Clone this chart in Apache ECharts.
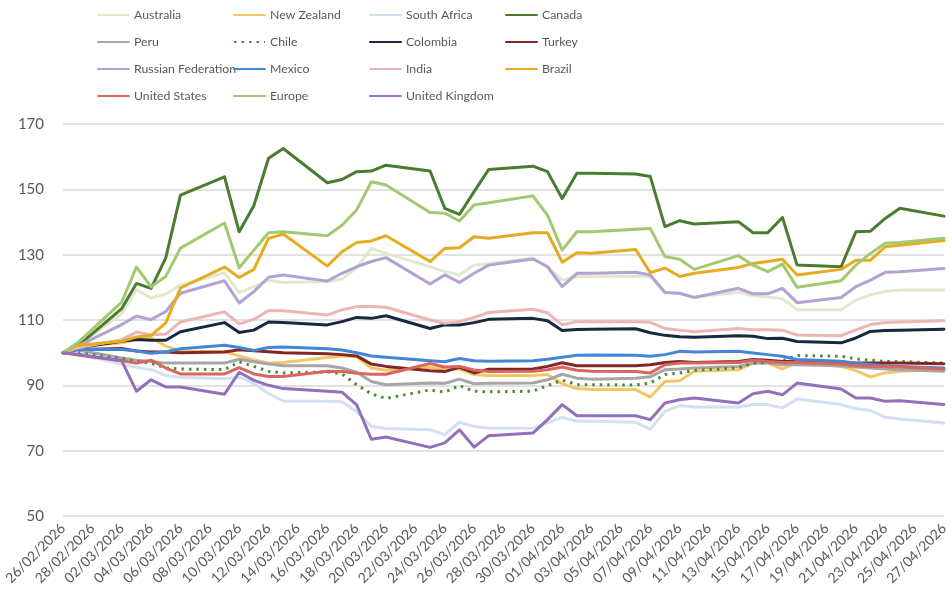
<!DOCTYPE html>
<html><head><meta charset="utf-8">
<script src="https://cdn.jsdelivr.net/npm/echarts@6/dist/echarts.min.js"></script>
<style>html,body{margin:0;padding:0;background:#fff}#c{width:951px;height:596px}</style>
</head><body><div id="c"></div>
<script>
// Trading dates (weekdays) with observations
const dates = ['26/02/2026','27/02/2026','02/03/2026','03/03/2026','04/03/2026','05/03/2026','06/03/2026',
'09/03/2026','10/03/2026','11/03/2026','12/03/2026','13/03/2026','16/03/2026','17/03/2026','18/03/2026','19/03/2026','20/03/2026',
'23/03/2026','24/03/2026','25/03/2026','26/03/2026','27/03/2026','30/03/2026','31/03/2026','01/04/2026','02/04/2026','03/04/2026',
'06/04/2026','07/04/2026','08/04/2026','09/04/2026','10/04/2026','13/04/2026','14/04/2026','15/04/2026','16/04/2026','17/04/2026',
'20/04/2026','21/04/2026','22/04/2026','23/04/2026','24/04/2026','27/04/2026'];

const australia = [100,102,112,119.3,116.7,118,120.7,124.4,118.4,120.2,122.2,121.5,121.8,122.5,126,131.9,130.4,126.3,124.8,123.8,126.8,127.3,128.9,126.3,122.2,123.3,123.3,123.5,123.3,118.5,118,117,118.5,117.5,117,116.5,113.1,113.1,116.1,117.7,118.7,119.2,119.2];
const newZealand = [100,102,103,104,104.5,102,100.5,100.3,99,97.8,96.8,97,98.5,99,98.8,95.3,94.6,95.5,95,95,93.3,93,93,93.3,90.5,89,88.7,88.7,86.4,91.2,91.4,94.3,94.8,96.8,96.8,95,97,95.8,94.5,92.6,93.8,94.3,94.8];
const southAfrica = [100,99.5,96.5,95.5,94.8,93,92.5,92,92.5,90.5,87.5,85.2,85.1,85,82,77.5,76.8,76.4,74.9,78.7,77.4,76.9,76.9,78.5,80.2,79,79,78.7,76.6,82,83.8,83.4,83.4,84.1,84.1,83.1,85.8,84.1,82.8,82.3,80.2,79.7,78.5];
const canada = [100,102,113.5,121.2,119.7,129,148.2,153.8,137,145,159.5,162.5,152,153,155.4,155.6,157.4,155.6,144.2,142.3,149.3,156.1,157.1,155.4,147.2,154.9,154.9,154.7,153.9,138.6,140.4,139.4,140.1,136.7,136.7,141.4,126.8,126.3,137,137.2,141.1,144.2,141.8];
const peru = [100,100.8,98.4,97.7,97.3,96.8,96.8,96.8,98,97.2,96.5,96,96,95.3,94,91.2,90.2,90.7,90.6,91.9,90.5,90.6,90.7,91.7,93.4,92.2,91.9,92.2,92.6,94.8,95,95.3,95.8,96.8,96.8,96.3,96.3,96,95.6,95.3,95,94.8,94.3];
const chile = [100,100,98.2,97.3,96.8,95.3,95,94.8,97.2,95.8,94.3,93.8,94.1,93.5,90.2,87.4,86,88.6,87.9,89.9,88.2,88,88.2,89.9,91.6,90.2,90.2,90.1,90.7,93.3,93.8,94.6,95.3,96.8,97,97.5,99.1,98.9,98.1,97.7,97.3,97.3,96.8];
const colombia = [100,101.5,103.5,104,103.8,103.8,106.4,109.2,106.2,106.9,109.4,109.2,108.5,109.5,110.8,110.5,111.3,107.4,108.5,108.5,109.2,110.2,110.5,109.8,106.8,107.1,107.2,107.3,106.1,105.3,104.9,104.7,105.2,105,104.3,104.4,103.4,103,104.5,106.5,106.8,106.9,107.2];
const turkey = [100,101,101.3,100.5,100.2,100.2,100,100.2,100.9,100.6,100.3,100,99.7,99.4,99,96.5,95.8,94.5,94.2,95.5,93.8,94.9,95,95.8,96.9,96,96,96,96.3,97,97.3,97,97.3,97.9,97.7,97.3,97.3,97,96.8,96.8,96.8,96.8,96.6];
const russia = [100,102,108.6,111.2,110.1,112.6,118.2,122,115.2,118.7,123.1,123.8,121.9,124.3,126.3,127.9,129.1,121,123.8,121.5,124.3,126.8,128.7,126.3,120.2,124.3,124.3,124.6,123.8,118.4,118.2,116.9,119.7,118,118,119.7,115.3,116.9,120.2,122.2,124.6,124.8,125.8];
const mexico = [100,101,101,100.5,99.8,100.2,101.2,102.3,101.6,100.7,101.6,101.7,101.2,100.8,100,99,98.6,97.5,97.2,98.2,97.5,97.4,97.5,98,98.6,99.2,99.3,99.2,98.9,99.4,100.4,100.2,100.4,99.9,99.4,98.9,97.9,97.4,96.8,96.4,96,95.8,95.3];
const india = [100,101.5,104,106.3,105.4,105.7,109.4,112.5,108.8,110.2,112.9,112.8,111.5,113.1,114.1,114.1,113.9,110,109,109.5,110.8,112.3,113.3,112.2,108.5,109.5,109.5,109.5,109.3,107.4,106.9,106.4,107.4,107,107,106.9,105.4,105.2,107,108.6,109.2,109.4,109.8];
const brazil = [100,102.3,103.5,104.8,105.3,109.1,119.8,126.2,123,125.5,135,136.3,126.5,130.9,133.7,134.2,135.8,127.9,131.9,132.1,135.5,135,136.7,136.7,127.7,130.6,130.4,131.6,124.5,125.9,123.3,124.3,126.1,127.3,127.9,128.6,123.8,125.5,128.3,128.3,132.4,132.9,134.3];
const unitedStates = [100,99.3,97.5,96.8,97.7,95.3,93.5,93.5,95.4,93.5,92.7,92.7,94.3,94.2,93.7,93.4,93.4,96.7,95.6,95.8,94.7,94.2,94.3,94.8,95.6,94.6,94.3,94.2,93.8,96.3,96.8,96.8,97,97.7,97.3,97,97,96.5,96,95.8,95.8,95.6,95];
const europe = [100,103,115.5,126.2,120.2,123.3,132,139.7,126,131.4,136.7,137,135.8,139,143.7,152.3,151.3,142.9,142.7,140.3,145.2,145.9,148,142.1,131.4,137,137,137.8,138,129.4,128.6,125.5,129.7,126.8,124.8,127.1,120,122,126.8,130.4,133.5,133.7,135];
const unitedKingdom = [100,99.5,97.5,88.2,91.7,89.5,89.5,87.3,94,91.5,90,89,88.2,87.9,84,73.5,74.2,71,72.4,76.4,71.1,74.6,75.4,79.5,84.1,80.7,80.7,80.7,79.5,84.6,85.6,86.1,84.6,87.4,88.2,87.1,90.7,88.9,86.1,86.1,85.1,85.3,84.1];

const yTickLabels = [50,70,90,110,130,150,170];

// Full daily category axis (26/02/2026 .. 27/04/2026)
const axisDays = [];
(function(){
  const start = Date.UTC(2026,1,26), end = Date.UTC(2026,3,27);
  for (let t = start; t <= end; t += 86400000) {
    const d = new Date(t);
    const dd = String(d.getUTCDate()).padStart(2,'0');
    const mm = String(d.getUTCMonth()+1).padStart(2,'0');
    axisDays.push(dd + '/' + mm + '/' + d.getUTCFullYear());
  }
})();

const seriesDefs = [
  ['Australia', australia, '#e2e8cd', 'solid'],
  ['New Zealand', newZealand, '#f3c764', 'solid'],
  ['South Africa', southAfrica, '#d3e0f1', 'solid'],
  ['Canada', canada, '#4a7c2f', 'solid'],
  ['Peru', peru, '#a6a6a6', 'solid'],
  ['Chile', chile, '#4c8c33', 'dotted'],
  ['Colombia', colombia, '#17283f', 'solid'],
  ['Turkey', turkey, '#832626', 'solid'],
  ['Russian Federation', russia, '#b3a2d3', 'solid'],
  ['Mexico', mexico, '#4385d6', 'solid'],
  ['India', india, '#ebb6b4', 'solid'],
  ['Brazil', brazil, '#e8aa1f', 'solid'],
  ['United States', unitedStates, '#d8655e', 'solid'],
  ['Europe', europe, '#a1c96f', 'solid'],
  ['United Kingdom', unitedKingdom, '#9270bb', 'solid']
];

const FONT = 'Lato, "DejaVu Sans", sans-serif';

const series = seriesDefs.map(([name, vals, color, type]) => ({
  name, type: 'line', symbol: 'none', showSymbol: false,
  data: dates.map((d, i) => [d, vals[i]]),
  lineStyle: { color, width: 3, type: type === 'dotted' ? [2.5, 5] : 'solid', join: 'round', cap: type === 'dotted' ? 'butt' : 'round' },
  itemStyle: { color },
  emphasis: { disabled: true },
  z: 2
}));

const cols = [
  ['Australia','Peru','Russian Federation','United States'],
  ['New Zealand','Chile','Mexico','Europe'],
  ['South Africa','Colombia','India','United Kingdom'],
  ['Canada','Turkey','Brazil']
];
const colLeft = [92, 228, 364, 500];
const legends = cols.map((names, i) => ({
  data: names, orient: 'vertical', left: colLeft[i], top: 4,
  itemWidth: 31, itemHeight: 14, itemGap: 15,
  selectedMode: false,
  itemStyle: { opacity: 0 },
  textStyle: { fontFamily: FONT, fontSize: 12.3, color: '#595959' }
}));

const chart = echarts.init(document.getElementById('c'), null, { renderer: 'canvas' });
chart.setOption({
  animation: false,
  backgroundColor: '#ffffff',
  legend: legends,
  grid: { left: 63, right: 6, top: 124, bottom: 80, containLabel: false },
  xAxis: {
    type: 'category', data: axisDays, boundaryGap: false,
    axisLine: { show: false }, axisTick: { show: false },
    axisLabel: { interval: 1, rotate: 45, margin: 10, fontFamily: FONT, fontSize: 14, color: '#595959' },
    splitLine: { show: false }
  },
  yAxis: {
    type: 'value', min: yTickLabels[0], max: yTickLabels[yTickLabels.length-1], interval: 20,
    axisLine: { show: false }, axisTick: { show: false },
    axisLabel: { margin: 19, fontFamily: FONT, fontSize: 15, color: '#595959' },
    splitLine: { lineStyle: { color: '#d9d9d9', width: 1.5 } }
  },
  series
});
</script>
</body></html>
